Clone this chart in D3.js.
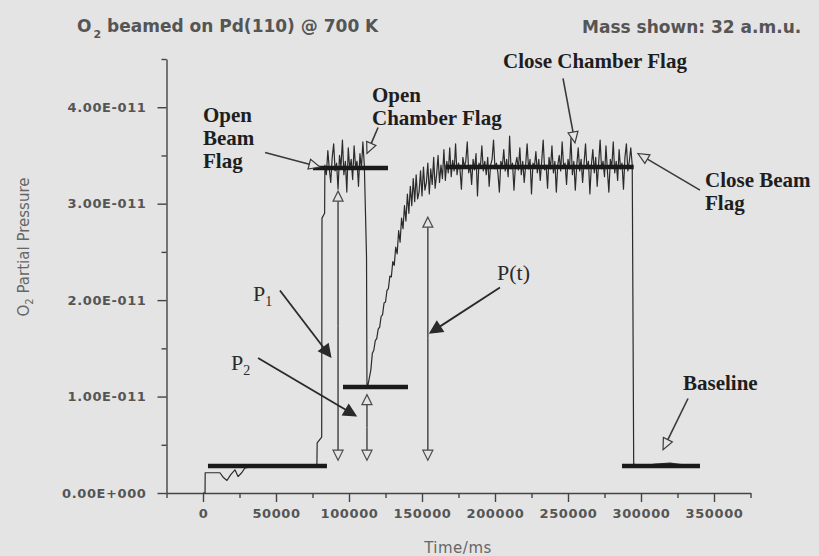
<!DOCTYPE html>
<html>
<head>
<meta charset="utf-8">
<script src="https://cdn.jsdelivr.net/npm/d3@7"></script>
<style>
  html, body { margin: 0; padding: 0; background: #e4e4e4; }
  svg { display: block; }
  .axis text { font-family: 'DejaVu Sans', sans-serif; font-weight: bold; font-size: 13px; fill: #555; letter-spacing: 0.6px; }
  .axis line, .axis path { stroke: #444; stroke-width: 1.4; }
  .heading { font-family: 'DejaVu Sans', sans-serif; font-weight: bold; font-size: 17px; fill: #555; }
  .axis-title { font-family: 'DejaVu Sans', sans-serif; font-size: 15px; fill: #666; }
  .flag { font-family: 'Liberation Serif', serif; font-weight: bold; font-size: 21px; fill: #1e1e1e; }
  .plabel { font-family: 'Liberation Serif', serif; font-size: 22px; fill: #2a2a2a; }
</style>
</head>
<body>
<svg id="canvas"></svg>
<script>
////////////////////////////////////////////////////////////////////////////////
// Chart data. Pressures are in units of 1E-011, times in ms.
////////////////////////////////////////////////////////////////////////////////

// Axis ticks.
var yTicks = [0, 1, 2, 3, 4];
var yTickLabels = ['0.00E+000', '1.00E-011', '2.00E-011', '3.00E-011', '4.00E-011'];
var yMinorTicks = [0.5, 1.5, 2.5, 3.5, 4.5];
var xTicks = [0, 50000, 100000, 150000, 200000, 250000, 300000, 350000];
var xTickLabels = ['0', '50000', '100000', '150000', '200000', '250000', '300000', '350000'];
var xMinorTicks = [-25000, 25000, 75000, 125000, 175000, 225000, 275000, 325000, 375000];

// Background before the beam flag opens, then the jump up.
var startTimes = [0, 1400, 1500, 6000, 11600, 14000, 16400, 19000, 21900, 24000, 26500,
                  28800, 33000, 40000, 50000, 60000, 70000, 78000, 78200, 81300, 81500, 83300];
var startValues = [0, 0, 0.21, 0.21, 0.21, 0.16, 0.13, 0.19, 0.24, 0.17, 0.21,
                   0.26, 0.27, 0.28, 0.27, 0.28, 0.29, 0.28, 0.52, 0.58, 2.85, 2.90];

// Noisy level with beam on, chamber flag closed (sampled every 1000 ms).
var beamStart = 83500;
var beamStep = 1000;
var beamValues = [3.40, 3.30, 3.55, 3.36, 3.22, 3.48, 3.62, 3.34, 3.42, 3.15, 3.50, 3.38, 3.66, 3.30,
                  3.44, 3.12, 3.58, 3.36, 3.46, 3.25, 3.60, 3.38, 3.44, 3.18, 3.52, 3.36, 3.64, 3.40];

// Drop when the chamber flag opens.
var dropTimes = [112000, 112300];
var dropValues = [2.45, 1.12];

// Recovery P(t) and the long plateau (sampled every 1000 ms).
var recoveryStart = 113000;
var recoveryStep = 1000;
var recoveryValues = [
  1.12, 1.20, 1.28, 1.45, 1.48, 1.58, 1.60, 1.70, 1.72, 1.83, 1.85, 1.97, 1.98, 2.10, 2.12, 2.25,
  2.24, 2.40, 2.36, 2.55, 2.48, 2.72, 2.60, 2.85, 2.74, 2.98, 2.82, 3.10, 2.90, 3.18, 2.98, 3.26,
  3.02, 3.30, 3.05, 3.12, 3.34, 3.08, 3.38, 3.14, 3.22, 3.42, 3.10, 3.36, 3.20, 3.48, 3.16, 3.30,
  3.50, 3.22, 3.40, 3.26, 3.56, 3.24, 3.44, 3.32, 3.58, 3.28,
  3.45, 3.34, 3.62, 3.30, 3.42, 3.36, 3.15, 3.48, 3.38, 3.44, 3.64, 3.32, 3.40, 3.20, 3.46, 3.35,
  3.52, 3.08, 3.42, 3.38, 3.60, 3.34, 3.44, 3.30, 3.48, 3.18, 3.40, 3.46, 3.66, 3.36, 3.42, 3.32,
  3.12, 3.44, 3.38, 3.56, 3.34, 3.46, 3.28, 3.70, 3.36, 3.42, 3.14, 3.40, 3.48, 3.35, 3.58, 3.30,
  3.44, 3.22, 3.40, 3.62, 3.36, 3.46, 3.10, 3.42, 3.38, 3.54, 3.32, 3.46, 3.24, 3.44, 3.66, 3.35,
  3.40, 3.16, 3.48, 3.36, 3.60, 3.32, 3.44, 3.12, 3.40, 3.50, 3.34, 3.64, 3.38, 3.42, 3.20, 3.46,
  3.36, 3.68, 3.30, 3.44, 3.14, 3.40, 3.58, 3.34, 3.46, 3.22, 3.42, 3.62, 3.36, 3.44, 3.10, 3.40,
  3.56, 3.32, 3.48, 3.18, 3.42, 3.66, 3.36, 3.44, 3.28, 3.60, 3.34, 3.12, 3.46, 3.38, 3.64, 3.32,
  3.44, 3.24, 3.56, 3.36, 3.42, 3.15, 3.48, 3.62, 3.34, 3.44, 3.58, 3.40
];

// Beam flag closed, back to background.
var endTimes = [295000, 300000, 310000, 320000, 330000, 340000];
var endValues = [0.30, 0.28, 0.30, 0.31, 0.29, 0.28];

// Thick level bars drawn over the trace.
var levelStarts = [3400, 75300, 95900, 166000, 287000];
var levelEnds = [84900, 126700, 140400, 295000, 340400];
var levelValues = [0.28, 3.37, 1.10, 3.38, 0.28];

// Vertical double headed markers (P1, P2, P(t)).
var markerTimes = [92500, 112300, 154000];
var markerTops = [3.13, 1.02, 2.86];
var markerBottoms = [0.34, 0.34, 0.34];

// Annotation arrows: [fromTime, fromValue, toTime, toValue].
var openArrows = [
  [42500, 3.53, 80100, 3.38],    // Open Beam Flag
  [119900, 3.79, 112300, 3.52],  // Open Chamber Flag
  [246600, 4.30, 254800, 3.63],  // Close Chamber Flag
  [340400, 3.14, 297900, 3.52],  // Close Beam Flag
  [332200, 0.98, 315100, 0.45]   // Baseline
];
var solidArrows = [
  [52700, 2.10, 87500, 1.41],    // P1
  [37700, 1.40, 104800, 0.80],   // P2
  [203400, 2.13, 155500, 1.66]   // P(t)
];

////////////////////////////////////////////////////////////////////////////////
// Canvas and scales.
////////////////////////////////////////////////////////////////////////////////
var canvas = { width: 819, height: 556, bg: '#e4e4e4' };

var svg = d3.select('#canvas')
            .attr('width', canvas.width)
            .attr('height', canvas.height);

svg.append('rect')
   .attr('width', canvas.width)
   .attr('height', canvas.height)
   .attr('fill', canvas.bg);

var xScale = d3.scaleLinear().domain([-25000, 375000]).range([166.5, 750.5]);
var yScale = d3.scaleLinear().domain([0, 4.5]).range([493, 59]);

////////////////////////////////////////////////////////////////////////////////
// Axes.
////////////////////////////////////////////////////////////////////////////////
svg.append('g')
   .attr('class', 'axis')
   .attr('transform', 'translate(0,' + yScale(0) + ')')
   .call(d3.axisBottom(xScale).tickValues(xMinorTicks).tickSize(5).tickSizeOuter(0).tickFormat(''))
   .call(function(g) { g.select('.domain').remove(); });

svg.append('g')
   .attr('class', 'axis')
   .attr('transform', 'translate(0,' + yScale(0) + ')')
   .call(d3.axisBottom(xScale).tickValues(xTicks).tickSize(9).tickSizeOuter(0).tickPadding(7)
           .tickFormat(function(d, i) { return xTickLabels[i]; }));

svg.append('g')
   .attr('class', 'axis')
   .attr('transform', 'translate(' + xScale(-25000) + ',0)')
   .call(d3.axisLeft(yScale).tickValues(yMinorTicks).tickSize(5).tickSizeOuter(0).tickFormat(''))
   .call(function(g) { g.select('.domain').remove(); });

svg.append('g')
   .attr('class', 'axis')
   .attr('transform', 'translate(' + xScale(-25000) + ',0)')
   .call(d3.axisLeft(yScale).tickValues(yTicks).tickSize(9).tickSizeOuter(0).tickPadding(11)
           .tickFormat(function(d, i) { return yTickLabels[i]; }));

// Titles.
var title = svg.append('text').attr('class', 'heading').attr('x', 77).attr('y', 32);
title.append('tspan').text('O');
title.append('tspan').attr('font-size', 11).attr('dy', 6).attr('dx', 2).text('2');
title.append('tspan').attr('dy', -6).text(' beamed on Pd(110) @ 700 K');

svg.append('text').attr('class', 'heading').attr('x', 582).attr('y', 33).text('Mass shown: 32 a.m.u.');

var yTitle = svg.append('text')
                .attr('class', 'axis-title')
                .attr('text-anchor', 'middle')
                .attr('transform', 'translate(29,247) rotate(-90)');
yTitle.append('tspan').text('O');
yTitle.append('tspan').attr('font-size', 10).attr('dy', 4).text('2');
yTitle.append('tspan').attr('dy', -4).text(' Partial Pressure');

svg.append('text')
   .attr('class', 'axis-title')
   .attr('text-anchor', 'middle')
   .attr('x', 458).attr('y', 553)
   .attr('letter-spacing', 0.5)
   .text('Time/ms');

////////////////////////////////////////////////////////////////////////////////
// Trace.
////////////////////////////////////////////////////////////////////////////////
var trace = [];
startTimes.forEach(function(t, i) { trace.push([t, startValues[i]]); });
beamValues.forEach(function(v, i) { trace.push([beamStart + i * beamStep, v]); });
dropTimes.forEach(function(t, i) { trace.push([t, dropValues[i]]); });
recoveryValues.forEach(function(v, i) { trace.push([recoveryStart + i * recoveryStep, v]); });
endTimes.forEach(function(t, i) { trace.push([t, endValues[i]]); });

var line = d3.line()
             .x(function(d) { return xScale(d[0]); })
             .y(function(d) { return yScale(d[1]); });

svg.append('path')
   .datum(trace)
   .attr('d', line)
   .attr('fill', 'none')
   .attr('stroke', '#2b2b2b')
   .attr('stroke-width', 1.2)
   .attr('stroke-linejoin', 'round');

// Level bars.
svg.selectAll('.level')
   .data(levelValues)
   .enter()
   .append('line')
   .attr('class', 'level')
   .attr('x1', function(d, i) { return xScale(levelStarts[i]); })
   .attr('x2', function(d, i) { return xScale(levelEnds[i]); })
   .attr('y1', function(d) { return yScale(d); })
   .attr('y2', function(d) { return yScale(d); })
   .attr('stroke', '#1a1a1a')
   .attr('stroke-width', 4.5);

////////////////////////////////////////////////////////////////////////////////
// Arrow helpers.
////////////////////////////////////////////////////////////////////////////////
function drawArrow(g, x1, y1, x2, y2, opts) {
  var a = Math.atan2(y2 - y1, x2 - x1);
  var bx = x2 - opts.len * Math.cos(a);
  var by = y2 - opts.len * Math.sin(a);
  var px = -Math.sin(a) * opts.half;
  var py = Math.cos(a) * opts.half;

  g.append('line')
   .attr('x1', x1).attr('y1', y1)
   .attr('x2', bx).attr('y2', by)
   .attr('stroke', opts.colour)
   .attr('stroke-width', opts.width);

  g.append('path')
   .attr('d', 'M' + x2 + ',' + y2 + 'L' + (bx + px) + ',' + (by + py) + 'L' + (bx - px) + ',' + (by - py) + 'Z')
   .attr('fill', opts.filled ? opts.colour : canvas.bg)
   .attr('stroke', opts.colour)
   .attr('stroke-width', 1.2)
   .attr('stroke-linejoin', 'miter');
}

var arrows = svg.append('g');

// Vertical double headed markers.
markerTimes.forEach(function(t, i) {
  var x = xScale(t);
  var top = yScale(markerTops[i]);
  var bottom = yScale(markerBottoms[i]);
  var mid = (top + bottom) / 2;
  var style = { len: 10, half: 5, colour: '#4a4a4a', width: 1.5, filled: false };
  drawArrow(arrows, x, mid, x, top, style);
  drawArrow(arrows, x, mid, x, bottom, style);
});

openArrows.forEach(function(d) {
  drawArrow(arrows, xScale(d[0]), yScale(d[1]), xScale(d[2]), yScale(d[3]),
            { len: 11, half: 5, colour: '#3a3a3a', width: 1.6, filled: false });
});

solidArrows.forEach(function(d) {
  drawArrow(arrows, xScale(d[0]), yScale(d[1]), xScale(d[2]), yScale(d[3]),
            { len: 12, half: 6, colour: '#2a2a2a', width: 1.8, filled: true });
});

////////////////////////////////////////////////////////////////////////////////
// Annotation text.
////////////////////////////////////////////////////////////////////////////////
function flagText(x, y, lines) {
  var t = svg.append('text').attr('class', 'flag').attr('x', x).attr('y', y);
  lines.forEach(function(s, i) {
    t.append('tspan').attr('x', x).attr('dy', i === 0 ? 0 : 23).text(s);
  });
}

flagText(203, 122, ['Open', 'Beam', 'Flag']);
flagText(372, 102, ['Open', 'Chamber Flag']);
flagText(503, 68, ['Close Chamber Flag']);
flagText(705, 187, ['Close Beam', 'Flag']);
flagText(683, 390, ['Baseline']);

function pLabel(x, y, main, sub) {
  var t = svg.append('text').attr('class', 'plabel').attr('x', x).attr('y', y);
  t.append('tspan').text(main);
  if (sub) {
    t.append('tspan').attr('font-size', 14).attr('dy', 5).text(sub);
  }
}

pLabel(253, 301, 'P', '1');
pLabel(231, 370, 'P', '2');
pLabel(497, 280, 'P(t)');
</script>
</body>
</html>
